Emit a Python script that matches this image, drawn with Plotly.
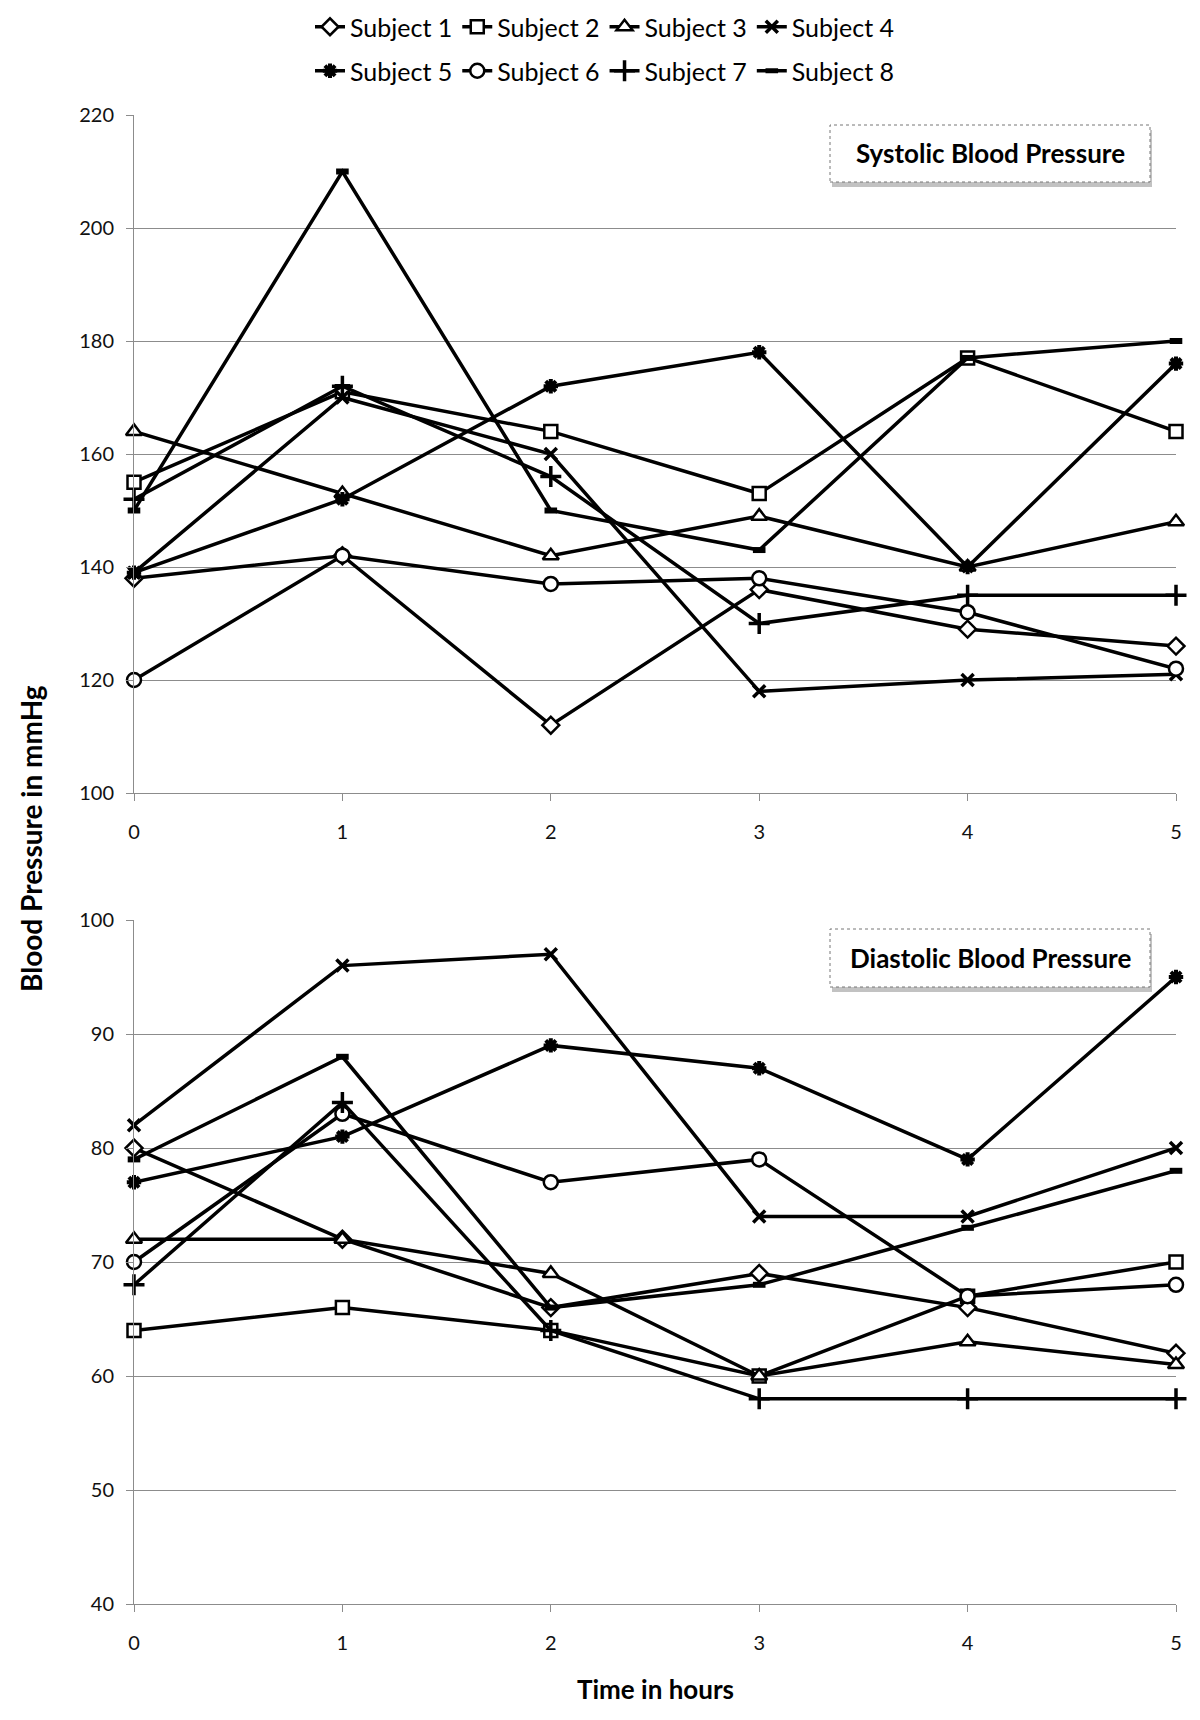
import plotly.graph_objects as go

hours = [0, 1, 2, 3, 4, 5]
subjects = ["Subject 1", "Subject 2", "Subject 3", "Subject 4",
            "Subject 5", "Subject 6", "Subject 7", "Subject 8"]

# Systolic blood pressure (mmHg)
sys_s1 = [138, 142, 112, 136, 129, 126]
sys_s2 = [155, 171, 164, 153, 177, 164]
sys_s3 = [164, 153, 142, 149, 140, 148]
sys_s4 = [139, 170, 160, 118, 120, 121]
sys_s5 = [139, 152, 172, 178, 140, 176]
sys_s6 = [120, 142, 137, 138, 132, 122]
sys_s7 = [152, 172, 156, 130, 135, 135]
sys_s8 = [150, 210, 150, 143, 177, 180]

# Diastolic blood pressure (mmHg)
dia_s1 = [80, 72, 66, 69, 66, 62]
dia_s2 = [64, 66, 64, 60, 67, 70]
dia_s3 = [72, 72, 69, 60, 63, 61]
dia_s4 = [82, 96, 97, 74, 74, 80]
dia_s5 = [77, 81, 89, 87, 79, 95]
dia_s6 = [70, 83, 77, 79, 67, 68]
dia_s7 = [68, 84, 64, 58, 58, 58]
dia_s8 = [79, 88, 66, 68, 73, 78]

systolic = [sys_s1, sys_s2, sys_s3, sys_s4, sys_s5, sys_s6, sys_s7, sys_s8]
diastolic = [dia_s1, dia_s2, dia_s3, dia_s4, dia_s5, dia_s6, dia_s7, dia_s8]

# marker styles: (symbol, size, fill, outline width)
styles = [
    ("diamond", 13, "white", 2.5),
    ("square", 13, "white", 2.5),
    ("triangle-up", 14, "white", 2.5),
    ("x-thin", 12, "black", 3.5),
    ("asterisk", 12, "black", 4),
    ("circle", 14, "white", 2.5),
    ("cross-thin", 15, "black", 3.5),
    ("line-ew", 9, "black", 6),
]

FONT = "Lato, 'Open Sans', sans-serif"
W, H = 1200, 1720
OFF = 8  # page body margin
L = 134 - OFF
T = 115 - OFF
R = W - (1176 - OFF)
B = H - (1604 - OFF)
plot_h = H - T - B
plot_w = W - L - R

def py(px):
    return (H - B - (px - OFF)) / plot_h

def pxx(px):
    return ((px - OFF) - L) / plot_w

fig = go.Figure()
for i, name in enumerate(subjects):
    sym, size, fill, lw = styles[i]
    marker = dict(symbol=sym, size=size, color=fill,
                  line=dict(color="black", width=lw))
    leg = "legend" if i < 4 else "legend2"
    fig.add_trace(go.Scatter(
        x=hours, y=systolic[i], name=name, mode="lines+markers",
        line=dict(color="black", width=3.5), marker=marker,
        cliponaxis=False, legend=leg, showlegend=True,
        xaxis="x", yaxis="y"))
    fig.add_trace(go.Scatter(
        x=hours, y=diastolic[i], name=name, mode="lines+markers",
        line=dict(color="black", width=3.5), marker=marker,
        cliponaxis=False, showlegend=False,
        xaxis="x2", yaxis="y2"))

grid = "#8c8c8c"
xcommon = dict(range=[0, 5], dtick=1, showgrid=False, showline=True,
               linecolor=grid, linewidth=1, ticks="outside", ticklen=7,
               tickcolor=grid, zeroline=False,
               tickfont=dict(family=FONT, size=20, color="#111"),
               ticklabelstandoff=14)
ycommon = dict(showgrid=True, gridcolor=grid, gridwidth=1, showline=True,
               linecolor=grid, linewidth=1, ticks="outside", ticklen=7,
               tickcolor=grid, zeroline=False,
               tickfont=dict(family=FONT, size=20, color="#111"),
               ticklabelstandoff=8)

legend_common = dict(orientation="h", xanchor="center", yanchor="middle",
                     font=dict(family=FONT, size=25, color="black"), itemwidth=30,
                     tracegroupgap=0, bgcolor="rgba(0,0,0,0)")

fig.update_layout(
    width=W, height=H,
    margin=dict(l=L, r=R, t=T, b=B, autoexpand=False),
    paper_bgcolor="white", plot_bgcolor="white",
    font=dict(family=FONT, color="black"),
    xaxis=dict(domain=[0, 1], anchor="y", **xcommon),
    yaxis=dict(domain=[py(793), 1.0], anchor="x", range=[100, 220], dtick=20, **ycommon),
    xaxis2=dict(domain=[0, 1], anchor="y2", **xcommon),
    yaxis2=dict(domain=[0, py(920)], anchor="x2", range=[40, 100], dtick=10, **ycommon),
    legend=dict(x=pxx(605), y=py(27), **legend_common),
    legend2=dict(x=pxx(605), y=py(71), **legend_common),
)

# text boxes with dotted border and shadow
def add_box(x0, y0, x1, y1, text):
    fig.add_shape(type="rect", xref="paper", yref="paper",
                  x0=pxx(x0 + 2), x1=pxx(x1 + 2), y0=py(y1 + 5), y1=py(y0 + 5),
                  fillcolor="rgba(120,120,120,0.45)", line=dict(width=0), layer="above")
    fig.add_shape(type="rect", xref="paper", yref="paper",
                  x0=pxx(x0), x1=pxx(x1), y0=py(y1), y1=py(y0),
                  fillcolor="white", line=dict(color="#777", width=1, dash="dot"), layer="above")
    fig.add_annotation(xref="paper", yref="paper", x=pxx((x0 + x1) / 2), y=py((y0 + y1) / 2),
                       text="<b>%s</b>" % text, showarrow=False,
                       font=dict(family=FONT, size=26, color="black"),
                       xanchor="center", yanchor="middle")

add_box(830, 125, 1150, 182, "Systolic Blood Pressure")
add_box(830, 929, 1150, 987, "Diastolic Blood Pressure")

fig.add_annotation(xref="paper", yref="paper", x=pxx(31), y=py(839),
                   text="<b>Blood Pressure in mmHg</b>", showarrow=False, textangle=-90,
                   font=dict(family=FONT, size=28, color="black"),
                   xanchor="center", yanchor="middle")
fig.add_annotation(xref="paper", yref="paper", x=pxx(655), y=py(1689),
                   text="<b>Time in hours</b>", showarrow=False,
                   font=dict(family=FONT, size=26, color="black"),
                   xanchor="center", yanchor="middle")

fig.write_html("out.html")
